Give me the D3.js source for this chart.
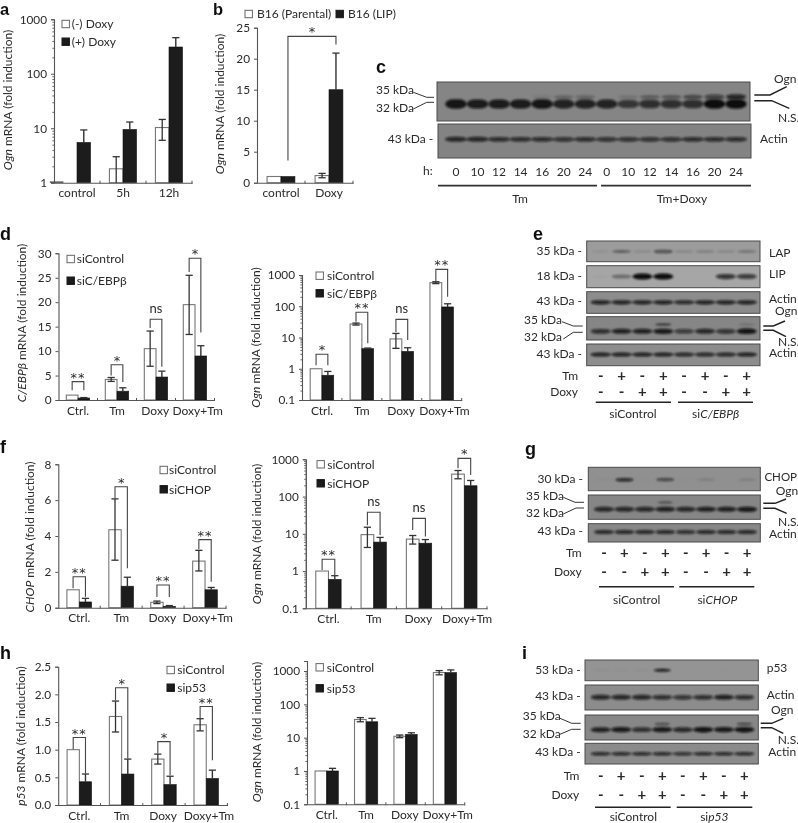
<!DOCTYPE html>
<html><head><meta charset="utf-8">
<style>html,body{margin:0;padding:0;background:#fff}svg{display:block}
text{font-family:Lato,"Open Sans",sans-serif;fill:#2b2b2b}</style>
<script src="https://cdn.jsdelivr.net/npm/d3@7"></script></head><body>
<script>
// ---------- DATA ----------
const catsTime=["control","5h","12h"], catsB=["control","Doxy"], cats4=["Ctrl.","Tm","Doxy","Doxy+Tm"];
const aWhite=[1.05,1.8,10.3], aWhiteHi=[null,3,14.5], aWhiteLo=[null,null,6], aBlack=[5.5,9.5,310], aBlackHi=[9.3,13,460];
const bWhite=[1,1.15], bWhiteHi=[null,1.5], bWhiteLo=[null,0.8], bBlack=[1,15], bBlackHi=[null,20.9];
const dlWhite=[1,4.2,10.5,19.5], dlWhiteHi=[null,4.6,14.1,25.5], dlWhiteLo=[null,3.8,6.9,13.4], dlBlack=[0.4,1.8,4.7,9], dlBlackHi=[0.5,2.5,5.9,11.1];
const drWhite=[1,27,9,570], drWhiteHi=[null,29,13.5,610], drWhiteLo=[null,25,4.5,530], drBlack=[0.62,4.4,3.6,95], drBlackHi=[0.82,4.6,4.7,120];
const flWhite=[1,4.35,0.3,2.6], flWhiteHi=[null,6.07,0.37,3.2], flWhiteLo=[null,2.65,0.23,2.05], flBlack=[0.32,1.2,0.08,1], flBlackHi=[0.52,1.7,0.12,1.13];
const frWhite=[1,9.5,7.2,400], frWhiteHi=[null,15,9,500], frWhiteLo=[null,4.3,5.3,300], frBlack=[0.6,6,5.6,195], frBlackHi=[0.75,8,7,270];
const hlWhite=[1,1.6,0.83,1.45], hlWhiteHi=[null,1.88,0.92,1.56], hlWhiteLo=[null,1.32,0.74,1.34], hlBlack=[0.42,0.56,0.37,0.48], hlBlackHi=[0.56,0.83,0.52,0.63];
const hrWhite=[1,35,11,900], hrWhiteHi=[null,40,12,1030], hrWhiteLo=[null,30,10,770], hrBlack=[1,30,12.5,900], hrBlackHi=[1.2,38,14,1080];
// brackets: top value, left foot value, right foot value, label
const dlTop=[3.75,7.2,16.5,29], dlLeft=[2,5,14.7,26.2], dlRight=[2,3.7,6.8,13.8], dlMarks=["**","*","ns","*"];
const drTop=[2.9,64,38,1514], drLeft=[1.3,32,15,612], drRight=[1.3,6.5,8.3,203], drMarks=["*","**","ns","**"];
const flTop=[1.73,6.75,1.27,3.8], flLeft=[1.08,6.1,0.6,3.26], flRight=[0.61,2.2,0.6,1.45], flMarks=["**","*","**","**"];
const frTop=[2.07,37.8,26,1060], frLeft=[1.07,17,12.7,575], frRight=[0.785,9.3,8.4,380], frMarks=["**","ns","ns","*"];
const hlTop=[1.22,2.12,1.145,1.78], hlLeft=[1.01,1.9,0.93,1.57], hlRight=[0.57,0.84,0.54,0.81], hlMarks=["**","*","*","**"];
const legA=["(-) Doxy","(+) Doxy"], legB=["B16 (Parental)","B16 (LIP)"], legD=["siControl","siC/EBPβ"], legF=["siControl","siCHOP"], legH=["siControl","sip53"];
const ticks10=[1,10,100,1000], ticks01=[0.1,1,10,100,1000];
// blots
const cHours=[0,10,12,14,16,20,24,0,10,12,14,16,20,24];
const cNS=[.95,.9,.9,.9,.95,.85,.85,.85,.7,.75,.75,.75,1,1], cOgn=[0,0,0,0,.1,.25,.25,0,.15,.3,.35,.45,.6,.8], cActin=[.8,.8,.75,.75,.75,.7,.75,.7,.7,.7,.7,.75,.75,.75];
const tmSigns=["-","+","-","+","-","+","-","+"], doxySigns=["-","-","+","+","-","-","+","+"];
const eLAP=[.08,.4,.12,.55,.15,.2,.15,.25], eLIP=[.03,.35,1,1,0,0,.75,.7], eActin1=[.85,.85,.85,.85,.8,.85,.85,.85], eNS=[.75,.85,.85,.9,.65,.8,.7,.95], eOgn=[0,0,0,.7,0,0,0,.25], eActin2=[.85,.85,.85,.85,.8,.8,.8,.85];
const gCHOP=[.03,.8,.02,.6,.02,.15,0,.15], gNS=[.8,.8,.8,.85,.8,.85,.85,.9], gOgn=[0,0,0,.5,0,0,0,0], gActin=[.8,.8,.8,.8,.75,.8,.8,.8];
const iP53=[.05,.04,.06,.9,0,0,.02,0], iActin1=[.8,.8,.8,.75,.7,.75,.85,.75], iNS=[.85,.9,.75,.9,.8,.95,.9,.95], iOgn=[0,0,0,.6,0,0,0,.7], iActin2=[.8,.8,.8,.8,.75,.8,.8,.8];

// ---------- SETUP ----------
const W=798,H=823,FS=12,INK="#2b2b2b";
const svg=d3.select("body").append("svg").attr("width",W).attr("height",H).attr("viewBox",`0 0 ${W} ${H}`);
const defs=svg.append("defs");
defs.append("filter").attr("id","soft").attr("filterUnits","userSpaceOnUse").attr("x",0).attr("y",0).attr("width",W).attr("height",H)
  .append("feGaussianBlur").attr("stdDeviation",0.35);
const bf=defs.append("filter").attr("id","band").attr("x","-10%").attr("y","-100%").attr("width","120%").attr("height","300%");
bf.append("feGaussianBlur").attr("stdDeviation",0.8);
const root=svg.append("g").attr("filter","url(#soft)");
root.append("rect").attr("width",W).attr("height",H).attr("fill","#fff");

function rich(t,parts){parts.forEach(p=>{t.append("tspan").attr("font-style",p[1]?"italic":"normal").text(p[0]);});return t;}
function label(x,y,parts,opt={}){
  const t=root.append("text").attr("x",x).attr("y",y).attr("dy","0.35em").attr("font-size",opt.size||FS).attr("text-anchor",opt.anchor||"start");
  if(opt.weight)t.attr("font-weight",opt.weight);
  if(typeof parts==="string")t.text(parts);else rich(t,parts);
  return t;
}
function polyline(pts,w=1.2,c="#333"){root.append("path").attr("d",d3.line()(pts)).attr("fill","none").attr("stroke",c).attr("stroke-width",w);}
function star(parent,x,y,m){
  parent.append("text").attr("x",x).attr("y",y).attr("text-anchor","middle").attr("font-size",13).attr("letter-spacing",m.length>1?1:0)
    .style("font-family","'DejaVu Sans',sans-serif").text(m);
}

function barPanel(p){
  const g=root.append("g");
  const x=d3.scaleBand().domain(p.cats).range(p.xr).paddingInner(0).paddingOuter(0);
  const y=(p.log?d3.scaleLog():d3.scaleLinear()).domain(p.yd).range(p.yr);
  const bw=x.step()*p.bf, cx=c=>x(c)+x.step()/2, base=y(p.yd[0]);
  const idx=d3.range(p.cats.length);
  g.selectAll(null).data(idx.filter(i=>!(p.stub&&i===0))).join("rect")
    .attr("x",i=>cx(p.cats[i])-bw).attr("width",bw).attr("y",i=>y(p.white[i])).attr("height",i=>base-y(p.white[i]))
    .attr("fill","#fff").attr("stroke","#777").attr("stroke-width",1.1);
  if(p.stub) g.append("rect").attr("x",cx(p.cats[0])-2*bw).attr("width",bw).attr("y",y(p.white[0])).attr("height",base-y(p.white[0])).attr("fill","#222");
  g.selectAll(null).data(idx).join("rect")
    .attr("x",i=>cx(p.cats[i])).attr("width",bw).attr("y",i=>y(p.black[i])).attr("height",i=>base-y(p.black[i]))
    .attr("fill","#1a1a1a").attr("stroke","#1a1a1a").attr("stroke-width",0.6);
  const cap=p.cap||3.6;
  idx.forEach(i=>{
    const c=p.cats[i], wx=cx(c)-bw/2, bx=cx(c)+bw/2;
    if(p.whiteHi[i]!=null){
      const lo=p.whiteLo[i]!=null?p.whiteLo[i]:p.white[i], hiY=y(p.whiteHi[i]), loY=p.whiteLo[i]!=null?y(lo):base;
      polyline([[wx,hiY],[wx,loY]],1.3,"#333");
      polyline([[wx-cap,hiY],[wx+cap,hiY]],1.3,"#333");
      if(p.whiteLo[i]!=null)polyline([[wx-cap,loY],[wx+cap,loY]],1.3,"#333");
    }
    if(p.blackHi[i]!=null){
      const hiY=y(p.blackHi[i]);
      polyline([[bx,hiY],[bx,y(p.black[i])]],1.4,"#333");
      polyline([[bx-cap,hiY],[bx+cap,hiY]],1.3,"#333");
    }
  });
  if(p.top) idx.forEach(i=>{
    const c=p.cats[i], lx=cx(c)-bw/2, rx=cx(c)+bw/2;
    const tY=y(p.top[i]), m=p.marks[i];
    polyline([[lx,y(p.left[i])],[lx,tY],[rx,tY],[rx,y(p.right[i])]],1.1,"#444");
    if(m==="ns") g.append("text").attr("x",(lx+rx)/2).attr("y",tY-6).attr("text-anchor","middle").attr("font-size",13).text(m);
    else star(g,(lx+rx)/2,tY,m);
  });
  const axX=g.append("g").attr("transform",`translate(0,${base})`).call(d3.axisBottom(x).tickSize(0).tickPadding(p.labPad||6));
  axX.selectAll("text").attr("font-size",FS).attr("font-family","Lato").style("fill",INK)
    .attr("dx",d=>d==="Doxy+Tm"?2.7:(d==="Doxy"&&p.cats.length>2?-0.8:0));
  axX.select(".domain").attr("stroke","#555").attr("stroke-width",1.1);
  g.selectAll(null).data(idx.slice(1).concat(idx.length)).join("line")
    .attr("x1",i=>p.xr[0]+i*x.step()).attr("x2",i=>p.xr[0]+i*x.step()).attr("y1",base-2).attr("y2",base+1).attr("stroke","#555").attr("stroke-width",1);
  const axisL=d3.axisLeft(y).tickSizeOuter(0).tickSize(3).tickPadding(4);
  if(p.log){
    const minors=[];
    for(let e=Math.floor(Math.log10(p.yd[0]));Math.pow(10,e)<p.yd[1];e++)for(let k=2;k<=9;k++){const v=k*Math.pow(10,e);if(v<=p.yd[1])minors.push(v);}
    const am=g.append("g").attr("transform",`translate(${p.xr[0]},0)`).call(d3.axisLeft(y).tickValues(minors).tickFormat("").tickSize(1.6).tickSizeOuter(0));
    am.selectAll("line").attr("stroke","#666"); am.select(".domain").attr("stroke","#555");
    axisL.tickValues(p.ticks).tickFormat(d=>d<1?d3.format(".1f")(d):d3.format("d")(d));
  } else axisL.tickValues(p.ticks).tickFormat(p.fmt);
  const ay=g.append("g").attr("transform",`translate(${p.xr[0]},0)`).call(axisL);
  ay.selectAll("text").attr("font-size",11.8).attr("font-family","Lato").style("fill",INK);
  ay.select(".domain").attr("stroke","#555").attr("stroke-width",1.1);
  ay.selectAll("line").attr("stroke","#555");
  const t=root.append("text").attr("text-anchor","middle").attr("font-size",FS).attr("transform",`translate(${p.titleX},${p.titleY}) rotate(-90)`);
  rich(t,p.title);
  p.leg.forEach((l,i)=>{
    const q=p.legPos[i];
    root.append("rect").attr("x",q[0]).attr("y",q[1]-3.7).attr("width",7.4).attr("height",7.4)
      .attr("fill",i?"#1a1a1a":"#fff").attr("stroke",i?"#1a1a1a":"#666").attr("stroke-width",1);
    label(q[2],q[1],l);
  });
  return {x,y,cx,bw};
}

// ---------- BAR PANELS ----------
const ogn=[["Ogn",true],[" mRNA (fold induction)",false]];
barPanel({cats:catsTime,xr:[54,192],yd:[1,1000],yr:[182.7,19.3],log:true,ticks:ticks10,bf:0.295,white:aWhite,whiteHi:aWhiteHi,whiteLo:aWhiteLo,black:aBlack,blackHi:aBlackHi,stub:true,
  title:ogn,titleX:12,titleY:100,leg:legA,legPos:[[62,24,71.7],[62,41.7,71.7]]});
const pb=barPanel({cats:catsB,xr:[257,353],yd:[0,25],yr:[182.7,27.7],ticks:[0,5,10,15,20,25],fmt:d3.format("d"),bf:0.29,white:bWhite,whiteHi:bWhiteHi,whiteLo:bWhiteLo,black:bBlack,blackHi:bBlackHi,
  title:ogn,titleX:224,titleY:104,leg:legB,legPos:[[245,14,257],[336,14,348]]});
{ // b's long bracket
  const lx=pb.cx("control")+pb.bw/2, rx=pb.cx("Doxy")+pb.bw/2, top=pb.y(23.6);
  polyline([[lx,pb.y(3.6)],[lx,top],[rx,top],[rx,pb.y(22.3)]],1.1,"#444");
  star(root,312,top,"*");
}
barPanel({cats:cats4,xr:[58.5,214.5],yd:[0,30],yr:[400,253.3],ticks:[0,5,10,15,20,25,30],fmt:d3.format("d"),bf:0.3,white:dlWhite,whiteHi:dlWhiteHi,whiteLo:dlWhiteLo,black:dlBlack,blackHi:dlBlackHi,
  top:dlTop,left:dlLeft,right:dlRight,marks:dlMarks,
  title:[["C/EBPβ",true],[" mRNA (fold induction)",false]],titleX:26,titleY:323,leg:legD,legPos:[[67,259,76.7],[67,280.7,76.7]]});
barPanel({cats:cats4,xr:[302,461.7],yd:[0.1,1000],yr:[400,275],log:true,ticks:ticks01,bf:0.295,white:drWhite,whiteHi:drWhiteHi,whiteLo:drWhiteLo,black:drBlack,blackHi:drBlackHi,
  top:drTop,left:drLeft,right:drRight,marks:drMarks,
  title:ogn,titleX:260,titleY:337.5,leg:legD,legPos:[[316,275.7,327],[316,293.3,327]]});
barPanel({cats:cats4,xr:[58.3,226],yd:[0,8],yr:[607.7,464.3],ticks:[0,2,4,6,8],fmt:d3.format("d"),bf:0.295,white:flWhite,whiteHi:flWhiteHi,whiteLo:flWhiteLo,black:flBlack,blackHi:flBlackHi,
  top:flTop,left:flLeft,right:flRight,marks:flMarks,
  title:[["CHOP",true],[" mRNA (fold induction)",false]],titleX:34,titleY:537,leg:legF,legPos:[[160,470,169],[160,489.3,169]]});
barPanel({cats:cats4,xr:[305.8,487],yd:[0.1,1000],yr:[608.3,459.3],log:true,ticks:ticks01,bf:0.28,white:frWhite,whiteHi:frWhiteHi,whiteLo:frWhiteLo,black:frBlack,blackHi:frBlackHi,
  top:frTop,left:frLeft,right:frRight,marks:frMarks,
  title:ogn,titleX:261,titleY:534,leg:legF,legPos:[[317,464.3,327.3],[317,483.3,327.3]]});
barPanel({cats:cats4,xr:[58.2,227.4],yd:[0,2.5],yr:[805,666.7],ticks:[0,0.5,1,1.5,2,2.5],fmt:d3.format(".1f"),bf:0.29,white:hlWhite,whiteHi:hlWhiteHi,whiteLo:hlWhiteLo,black:hlBlack,blackHi:hlBlackHi,
  top:hlTop,left:hlLeft,right:hlRight,marks:hlMarks,
  title:[["p53",true],[" mRNA (fold induction)",false]],titleX:25,titleY:736,leg:legH,legPos:[[167,670,177.3],[167,687.7,177.3]]});
barPanel({cats:cats4,xr:[307,464.7],yd:[0.1,2000],yr:[804.3,661],log:true,ticks:ticks01,bf:0.295,white:hrWhite,whiteHi:hrWhiteHi,whiteLo:hrWhiteLo,black:hrBlack,blackHi:hrBlackHi,
  title:ogn,titleX:261,titleY:732,leg:legH,legPos:[[316,667.3,326.7],[316,688.3,326.7]]});

// ---------- BLOTS ----------
let clipN=0;
function blot(x0,x1,y0,y1,bg,lane,laneKeys,bands){
  const id="c"+(clipN++);
  defs.append("clipPath").attr("id",id).append("rect").attr("x",x0).attr("y",y0).attr("width",x1-x0).attr("height",y1-y0);
  root.append("rect").attr("x",x0).attr("y",y0).attr("width",x1-x0).attr("height",y1-y0).attr("fill",bg).attr("stroke","#4a4a4a").attr("stroke-width",1);
  const g=root.append("g").attr("clip-path",`url(#${id})`);
  bands.forEach(b=>{
    g.append("g").attr("filter","url(#band)").selectAll("rect").data(b.v.map((v,i)=>({v,i})).filter(d=>d.v>0)).join("rect")
      .attr("x",d=>lane(laneKeys[d.i])-b.w/2).attr("width",b.w)
      .attr("y",d=>b.y-b.h*(0.5+d.v*0.5)/2).attr("height",d=>b.h*(0.5+d.v*0.5))
      .attr("rx",b.w/2.6).attr("ry",d=>b.h*(0.5+d.v*0.5)/2).attr("fill","#0d0d0d").attr("opacity",d=>d.v);
  });
}
function connectors(L,R){ L.forEach(a=>polyline(a,1)); R.forEach(a=>polyline(a,1.4,"#222")); }
function signs(lane,keys,tmY,doxyY,endX,u,gene){
  label(endX,tmY,"Tm",{anchor:"end"}); label(endX,doxyY,"Doxy",{anchor:"end"});
  [[tmSigns,tmY],[doxySigns,doxyY]].forEach(([arr,yy])=>{
    root.selectAll(null).data(arr.map((s,i)=>({s,i}))).join("text").attr("x",d=>lane(keys[d.i])).attr("y",yy).attr("dy","0.35em")
     .attr("text-anchor","middle").attr("font-size",15).attr("font-weight",700).text(d=>d.s);
  });
  u.bars.forEach(b=>polyline([[b[0],u.y],[b[1],u.y]],1.4,"#222"));
  label(u.c1,u.ty,"siControl",{anchor:"middle"});
  label(u.c2,u.ty,gene,{anchor:"middle"});
}

// c
const cKeys=d3.range(14), laneC=d3.scalePoint().domain(cKeys).range([456,736]);
blot(437,750,82,121,"#858585",laneC,cKeys,[{y:97,h:6,w:20,v:cOgn},{y:104,h:9.5,w:21.5,v:cNS}]);
blot(438,751,124,158,"#838383",laneC,cKeys,[{y:139.3,h:5.5,w:22,v:cActin}]);
label(376,90,"35 kDa");label(376,107.7,"32 kDa");label(433.3,138.3,"43 kDa -",{anchor:"end"});
connectors([[[413.3,92.3],[426.7,97.3],[434,97.3]],[[413.3,109],[426.7,102.3],[434,102.3]]],
  [[[754.3,95],[770,95],[786.7,86.7]],[[754.3,100.7],[771.7,100.7],[789.3,108.3]]]);
label(774,78.3,"Ogn");label(778,117.7,"N.S.");label(760,138.3,"Actin");
label(423,170.7,"h:");
root.selectAll(null).data(cHours.map((h,i)=>({h,i}))).join("text").attr("x",d=>laneC(d.i)).attr("y",172).attr("dy","0.35em").attr("text-anchor","middle").attr("font-size",FS).text(d=>d.h);
polyline([[438,185.7],[597,185.7]],1.8,"#333");polyline([[601,185.7],[751,185.7]],1.8,"#333");
label(520,199,"Tm",{anchor:"middle"});label(682,199,"Tm+Doxy",{anchor:"middle"});

// e
const k8=d3.range(8), laneE=d3.scalePoint().domain(k8).range([600.7,746.7]);
blot(586.7,760,241,261.7,"#9c9c9c",laneE,k8,[{y:251.5,h:4.5,w:19,v:eLAP}]);
blot(586.7,760,265.7,287.7,"#a6a6a6",laneE,k8,[{y:276.5,h:6,w:20,v:eLIP}]);
blot(586.7,760,291.7,313.3,"#8c8c8c",laneE,k8,[{y:302.3,h:4.5,w:20.5,v:eActin1}]);
blot(586.7,760,316.7,340,"#868686",laneE,k8,[{y:324.5,h:2.6,w:16,v:eOgn},{y:331.3,h:5.5,w:20,v:eNS}]);
blot(586.7,760,344,365.7,"#8d8d8d",laneE,k8,[{y:354.5,h:4.5,w:20.5,v:eActin2}]);
[[251,"35 kDa -"],[275.7,"18 kDa -"],[301,"43 kDa -"],[354,"43 kDa -"]].forEach(a=>label(582,a[0],a[1],{anchor:"end"}));
label(524,319.3,"35 kDa");label(524,337,"32 kDa");
connectors([[[562,321.7],[573.3,326],[582.7,326]],[[563.3,339],[573.3,332.3],[582.7,332.3]]],
  [[[763.3,326],[773.3,326],[785,321]],[[763.3,330.3],[773.3,330.3],[786,336.7]]]);
label(769,253,"LAP");label(769,274,"LIP");label(769,299,"Actin");label(775,311,"Ogn");label(778,342,"N.S.");label(769,352.7,"Actin");
signs(laneE,k8,375.7,391.7,578,{bars:[[595.7,671],[678,753]],y:402.3,c1:633,c2:715.7,ty:413.7},[["si",false],["C/EBPβ",true]]);

// g
const laneG=d3.scalePoint().domain(k8).range([604,747]);
blot(588.3,760.3,467.3,490.7,"#909090",laneG,k8,[{y:479.7,h:4,w:18,v:gCHOP}]);
blot(588.3,760.3,495,519.3,"#868686",laneG,k8,[{y:502.5,h:2.6,w:15,v:gOgn},{y:509.3,h:5.5,w:20,v:gNS}]);
blot(588.3,760.3,523.7,542,"#888888",laneG,k8,[{y:532,h:4.5,w:20,v:gActin}]);
[[479,"30 kDa -"],[530.7,"43 kDa -"]].forEach(a=>label(583,a[0],a[1],{anchor:"end"}));
label(526,495.7,"35 kDa");label(526,513,"32 kDa");
connectors([[[563.3,497.3],[575,502.3],[584,502.3]],[[563.3,514],[576,508],[584,508]]],
  [[[763.3,503.3],[775,503.3],[786,499]],[[763.3,508.3],[775,508.3],[786.7,513.3]]]);
label(797,476.7,"CHOP",{anchor:"end",size:11.5});label(775.7,490.7,"Ogn");label(778,521.7,"N.S.");label(769,534,"Actin");
signs(laneG,k8,552.7,571.7,581.7,{bars:[[599,674],[679.3,754.3]],y:586.7,c1:636.7,c2:717.3,ty:599.7},[["si",false],["CHOP",true]]);

// i
const laneI=d3.scalePoint().domain(k8).range([600.7,744.3]);
blot(585,758.3,660,680.7,"#949494",laneI,k8,[{y:670.3,h:3.2,w:17,v:iP53}]);
blot(585,758.3,685,710,"#8c8c8c",laneI,k8,[{y:697.3,h:5.5,w:20,v:iActin1}]);
blot(585,758.3,715,740,"#878787",laneI,k8,[{y:724,h:2.6,w:15,v:iOgn},{y:729.7,h:5.5,w:20,v:iNS}]);
blot(585,758.3,743.3,764,"#8b8b8b",laneI,k8,[{y:753.7,h:4,w:20,v:iActin2}]);
[[670,"53 kDa -"],[695.7,"43 kDa -"],[751.7,"43 kDa -"]].forEach(a=>label(580.7,a[0],a[1],{anchor:"end"}));
label(522.7,716,"35 kDa");label(522.7,733.3,"32 kDa");
connectors([[[560,718.3],[571.7,723.3],[580.7,723.3]],[[560,734.3],[571.7,729.3],[580.7,729.3]]],
  [[[760.7,723.3],[771.7,723.3],[783.3,718.3]],[[760.7,727.7],[771.7,727.7],[783.3,733.3]]]);
label(766.7,667.3,"p53");label(766.7,695,"Actin");label(771,710,"Ogn");label(777.7,740,"N.S.");label(768.3,751.7,"Actin");
signs(laneI,k8,775.3,794.3,579.3,{bars:[[595,670.7],[676.7,752.3]],y:807.3,c1:633.3,c2:714.3,ty:817},[["si",false],["p53",true]]);

// panel letters
[["a",0,15],["b",213,15],["c",376,73],["d",0,240],["e",533,240],["f",0,453],["g",525,455],["h",0,659],["i",522,659]].forEach(a=>{
  root.append("text").attr("x",a[1]).attr("y",a[2]).attr("font-size",a[2]<20?16.5:18).attr("font-weight",700).style("font-family","'Liberation Sans',Arial,sans-serif").style("fill","#111").text(a[0]);
});
</script></body></html>
